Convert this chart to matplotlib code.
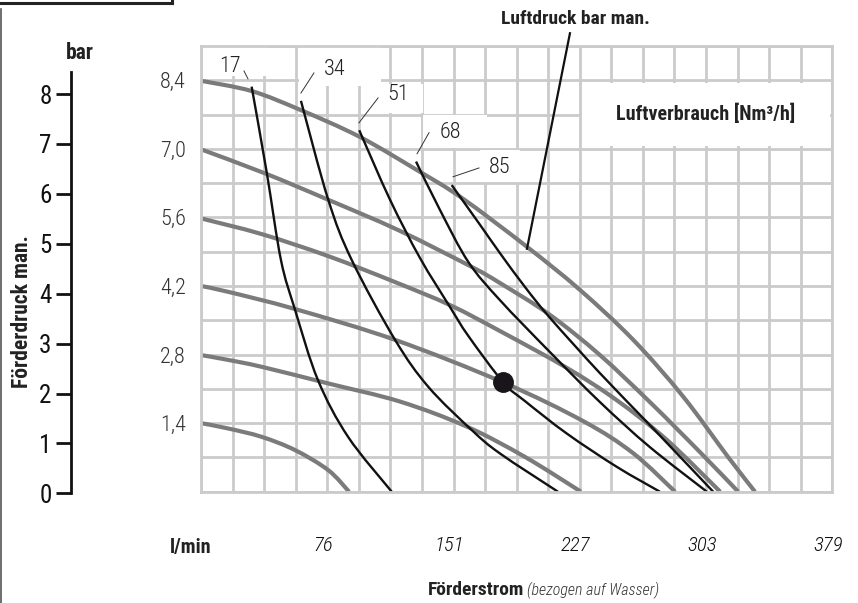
import numpy as np
import matplotlib
matplotlib.use("Agg")
import matplotlib.pyplot as plt
from matplotlib import font_manager as fm
from matplotlib.lines import Line2D
from matplotlib.patches import Rectangle, PathPatch
from matplotlib.path import Path
from matplotlib.transforms import ScaledTranslation

# ---------------- data ----------------
x_max = 379.0
y_max = 9.1
x_ticks = [75.8, 151.6, 227.4, 303.2, 379.0]
x_tick_labels = ["76", "151", "227", "303", "379"]
air_pressures = ["1,4", "2,8", "4,2", "5,6", "7,0", "8,4"]
air_pressure_vals = [1.4, 2.8, 4.2, 5.6, 7.0, 8.4]
left_ticks = [0, 1, 2, 3, 4, 5, 6, 7, 8]

# gray curves: Luftdruck (air pressure) lines
g14_x = [0, 16.4, 36.4, 56.4, 76.4, 88.9]
g14_y = [1.40, 1.29, 1.12, 0.85, 0.44, 0.0]
g28_x = [0, 16.4, 36.4, 76.4, 119.5, 159.5, 194.5, 228.1]
g28_y = [2.79, 2.69, 2.55, 2.21, 1.84, 1.33, 0.71, 0.0]
g42_x = [0, 16.4, 56.4, 116.5, 181.5, 229.5, 259.3, 284.6]
g42_y = [4.20, 4.08, 3.73, 3.10, 2.23, 1.44, 0.79, 0.0]
g56_x = [0, 36.4, 76.4, 116.5, 149.5, 179.5, 219.5, 249.5, 279.6, 311.7]
g56_y = [5.58, 5.26, 4.81, 4.28, 3.81, 3.28, 2.53, 1.87, 1.06, 0.0]
g70_x = [0, 38.4, 76.4, 118.5, 162.5, 179.5, 209.5, 239.5, 269.5, 299.5, 322.5]
g70_y = [6.99, 6.50, 5.96, 5.34, 4.59, 4.26, 3.61, 2.79, 1.83, 0.81, 0.0]
g84_x = [0, 30.4, 60.0, 95.0, 129.5, 156.5, 195.7, 227.5, 259.5, 289.5, 316.4, 332.6]
g84_y = [8.39, 8.18, 7.79, 7.25, 6.57, 6.00, 5.00, 4.12, 3.10, 1.94, 0.71, 0.0]

# black curves: Luftverbrauch (air consumption) lines
b17_x = [30.4, 39.5, 48.0, 56.5, 70.2, 88.3, 114.5]
b17_y = [8.27, 6.51, 4.73, 3.71, 2.28, 1.12, 0.0]
b34_x = [60.0, 76.4, 90.5, 116.5, 136.5, 162.5, 179.5, 214.3]
b34_y = [7.98, 5.96, 4.73, 3.10, 2.14, 1.26, 0.78, 0.0]
b51_x = [95.0, 113.5, 131.5, 149.5, 160.5, 181.5, 194.5, 219.5, 249.5, 275.5]
b51_y = [7.38, 5.96, 4.77, 3.77, 3.18, 2.23, 1.85, 1.19, 0.51, 0.0]
b68_x = [129.1, 143.5, 160.5, 179.5, 209.5, 239.5, 269.5, 303.7]
b68_y = [6.74, 5.75, 4.69, 3.91, 2.85, 1.83, 0.91, 0.0]
b85_x = [150.5, 167.5, 179.5, 194.5, 209.5, 239.5, 269.5, 307.5]
b85_y = [6.26, 5.45, 4.87, 4.18, 3.55, 2.42, 1.36, 0.0]

consumption_labels = ["17", "34", "51", "68", "85"]
label_text_xy = [(17.4, 8.69), (80.4, 8.61), (118.3, 8.10), (149.5, 7.33), (179.5, 6.61)]
leader_start = [(25.8, 8.59), (67.8, 8.55), (106.3, 8.04), (136.9, 7.33), (166.9, 6.61)]
leader_end = [(28.2, 8.43), (60.0, 8.14), (94.8, 7.53), (129.7, 6.90), (151.3, 6.43)]
label_boxes = [(1.2, 8.49, 40.2, 9.1), (58.8, 8.28, 108.1, 9.1), (108.1, 7.73, 133.3, 8.33),
               (133.3, 7.02, 171.7, 7.69), (167.5, 6.32, 191.5, 6.98)]
op_point = (181.5, 2.23)

# ---------------- fonts ----------------
names = {f.name for f in fm.fontManager.ttflist}
cond_family, cond_stretch = "DejaVu Sans", "normal"
for cand in ["Roboto Condensed", "Liberation Sans Narrow", "Open Sans Condensed", "Noto Sans Condensed"]:
    if cand in names:
        cond_family, cond_stretch = cand, "normal"
        break
else:
    for f in fm.fontManager.ttflist:
        if f.stretch in ("condensed", "semi-condensed") and f.name in ("Roboto", "Noto Sans", "Open Sans", "DejaVu Sans"):
            cond_family, cond_stretch = f.name, "condensed"
            break
FF = [cond_family, "DejaVu Sans"]
plt.rcParams["font.family"] = FF
plt.rcParams["font.stretch"] = cond_stretch

W, H = 858, 603
fig = plt.figure(figsize=(W / 100, H / 100), dpi=100)

def fx(px):
    return px / W

def fy(py):
    return 1 - py / H

def smooth_path(xs, ys):
    P = np.column_stack([xs, ys]).astype(float)
    n = len(P)
    verts = [P[0]]
    codes = [Path.MOVETO]
    for i in range(n - 1):
        p0 = P[i - 1] if i > 0 else P[i]
        p1, p2 = P[i], P[i + 1]
        p3 = P[i + 2] if i + 2 < n else P[i + 1]
        verts += [p1 + (p2 - p0) / 6.0, p2 - (p3 - p1) / 6.0, p2]
        codes += [Path.CURVE4] * 3
    return Path(verts, codes)

# ---------------- main grid axes ----------------
L, R, T, B = 201, 832.3, 46, 491.7
ax = fig.add_axes([fx(L), fy(B), fx(R) - fx(L), fy(T) - fy(B)])
ax.set_xlim(0, x_max)
ax.set_ylim(0, y_max)
grid_c = "#cbcbcb"
for gx in np.linspace(0, x_max, 21):
    ax.axvline(gx, color=grid_c, lw=2.0, zorder=1)
for gy in np.linspace(0, y_max, 14):
    ax.axhline(gy, color=grid_c, lw=2.0, zorder=1)
for s in ax.spines.values():
    s.set_color(grid_c)
    s.set_linewidth(2.0)
    s.set_zorder(5)

for (x0, y0, x1, y1) in label_boxes:
    ax.add_patch(Rectangle((x0, y0), x1 - x0, y1 - y0, facecolor="white", edgecolor="none", zorder=2))
ax.add_patch(Rectangle((228.5, 7.06), x_max - 228.5 - 1.5, 8.34 - 7.06, facecolor="white", edgecolor="none", zorder=2))

gray_c = "#7b7b7b"
for gxs, gys in [(g14_x, g14_y), (g28_x, g28_y), (g42_x, g42_y), (g56_x, g56_y), (g70_x, g70_y), (g84_x, g84_y)]:
    ax.add_patch(PathPatch(smooth_path(gxs, gys), facecolor="none", edgecolor=gray_c, lw=3.0,
                           capstyle="butt", joinstyle="round", zorder=3, clip_on=False))
for bxs, bys in [(b17_x, b17_y), (b34_x, b34_y), (b51_x, b51_y), (b68_x, b68_y), (b85_x, b85_y)]:
    ax.add_patch(PathPatch(smooth_path(bxs, bys), facecolor="none", edgecolor="#111111", lw=1.7,
                           capstyle="butt", joinstyle="round", zorder=4, clip_on=False))
ax.plot([op_point[0]], [op_point[1]], "o", color="#18161a", ms=14, zorder=6)

for lab, (tx, ty), (sx, sy), (ex, ey) in zip(consumption_labels, label_text_xy, leader_start, leader_end):
    ax.text(tx, ty, lab, ha="center", va="center", fontsize=16, fontweight="light", color="#222222", zorder=6)
    ax.plot([sx, ex], [sy, ey], color="#333333", lw=0.7, zorder=6)

# pressure labels on left of grid
ax.set_yticks(air_pressure_vals)
ax.set_yticklabels(air_pressures, fontsize=16, fontweight="light", color="#333333")
ax.tick_params(axis="y", length=0, pad=11)
ax.set_xticks(x_ticks)
ax.set_xticklabels(x_tick_labels, fontsize=15, fontstyle="italic", fontweight="light", color="#111111")
ax.tick_params(axis="x", length=0, pad=32)
for lbl in ax.get_xticklabels():
    lbl.set_transform(lbl.get_transform() + ScaledTranslation(-4 / 100, 0, fig.dpi_scale_trans))

ax.text(303.2, 7.71, "Luftverbrauch [Nm³/h]", ha="center", va="center", fontsize=14.5, fontweight="bold", color="#222222", zorder=7)
ax.text(224.5, 9.65, "Luftdruck bar man.", ha="center", va="center", fontsize=14, fontweight="bold", color="#222222", clip_on=False)
ax.plot([221.5, 195.7], [9.36, 4.96], color="#111111", lw=1.6, zorder=6, clip_on=False)

# ---------------- left pressure axis ----------------
axl = fig.add_axes([fx(71), fy(493.3), 0.001, fy(72) - fy(493.3)])
axl.set_ylim(0, (493.3 - 72) / 49.9)
axl.set_xlim(0, 1)
for k in ["top", "right", "bottom"]:
    axl.spines[k].set_visible(False)
axl.spines["left"].set_linewidth(2.0)
axl.spines["left"].set_color("#111111")
axl.set_xticks([])
axl.set_yticks(left_ticks)
axl.set_yticklabels([str(v) for v in left_ticks], fontsize=18, color="#111111")
axl.tick_params(axis="y", length=11, width=2.0, pad=3, color="#111111")
axl.patch.set_visible(False)

fig.text(fx(80), fy(53), "bar", ha="center", va="center", fontsize=15.5, fontweight="bold", color="#222222")
fig.text(fx(22), fy(312), "Förderdruck man.", ha="center", va="center", rotation=90, fontsize=15.5, fontweight="bold", color="#222222")
fig.text(fx(191), fy(548), "l/min", ha="center", va="center", fontsize=14.5, fontweight="bold", color="#222222")
fig.text(fx(524), fy(590), "Förderstrom", ha="right", va="center", fontsize=14, fontweight="bold", color="#222222")
fig.text(fx(527), fy(590), "(bezogen auf Wasser)", ha="left", va="center", fontsize=11.5, fontstyle="italic", fontweight="light", color="#333333")

# frame fragments
fig.add_artist(Line2D([0, fx(172)], [fy(3), fy(3)], transform=fig.transFigure, color="#222222", lw=2.2))
fig.add_artist(Line2D([fx(172), fx(172)], [fy(0), fy(3)], transform=fig.transFigure, color="#222222", lw=2.2))
fig.add_artist(Line2D([fx(1), fx(1)], [fy(9), 0], transform=fig.transFigure, color="#555555", lw=1.2))

fig.savefig("out.png", dpi=100)
